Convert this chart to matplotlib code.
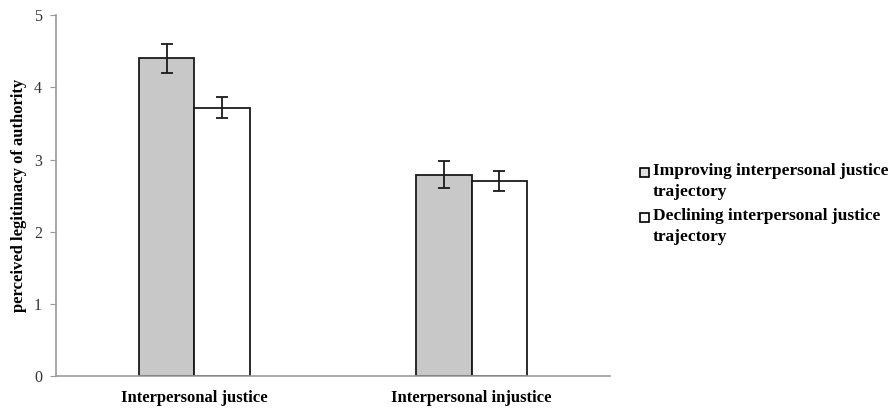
import numpy as np
import matplotlib.pyplot as plt
from matplotlib.patches import Rectangle

# data
categories = ["Interpersonal justice", "Interpersonal injustice"]
series = ["Improving interpersonal justice\ntrajectory",
          "Declining interpersonal justice\ntrajectory"]
improving = [4.40, 2.79]
improving_err = [0.20, 0.19]
declining = [3.72, 2.70]
declining_err = [0.14, 0.14]

plt.rcParams['font.family'] = ['Liberation Serif', 'DejaVu Serif']

fig = plt.figure(figsize=(8.88, 4.08), dpi=100)
ax = fig.add_axes([0.063, 0.078, 0.624, 0.885])

x = np.arange(len(categories))
w = 0.2
ekw = dict(elinewidth=1.3, capthick=1.3, ecolor='#1a1a1a')
ax.bar(x - w / 2, improving, w, color='#c8c8c8', edgecolor='#1a1a1a', linewidth=1.3,
       yerr=improving_err, capsize=4, error_kw=ekw)
ax.bar(x + w / 2, declining, w, color='white', edgecolor='#1a1a1a', linewidth=1.3,
       yerr=declining_err, capsize=4, error_kw=ekw)

ax.set_xlim(-0.5, 1.5)
ax.set_ylim(0, 5)
ax.set_yticks(range(6))
ax.set_xticks(x)
ax.set_xticklabels(categories, fontweight='bold', fontsize=12)
ax.tick_params(axis='x', length=0, pad=10)
ax.tick_params(axis='y', length=4, color='#999999', labelsize=11.5, labelcolor='#333333', pad=6)
for s in ['top', 'right']:
    ax.spines[s].set_visible(False)
for s in ['left', 'bottom']:
    ax.spines[s].set_color('#999999')
    ax.spines[s].set_linewidth(1.2)
ax.set_ylabel("perceived legitimacy of authority", fontweight='bold', fontsize=12, labelpad=5)

# legend drawn by hand so the box sits on the first text line
fills = ['#e0e0e0', 'white']
tops = [172 / 408, 217 / 408]
for lab, fc, yc in zip(series, fills, tops):
    yc = 1 - yc
    fig.patches.append(Rectangle((640 / 888, yc - 4.5 / 408), 9 / 888, 9 / 408,
                                 facecolor=fc, edgecolor='black', linewidth=1.2,
                                 transform=fig.transFigure))
    fig.text(653 / 888, yc + 9 / 408, lab, ha='left', va='top', fontweight='bold',
             fontsize=12.5, linespacing=1.4)

fig.savefig("out.png", dpi=100)
